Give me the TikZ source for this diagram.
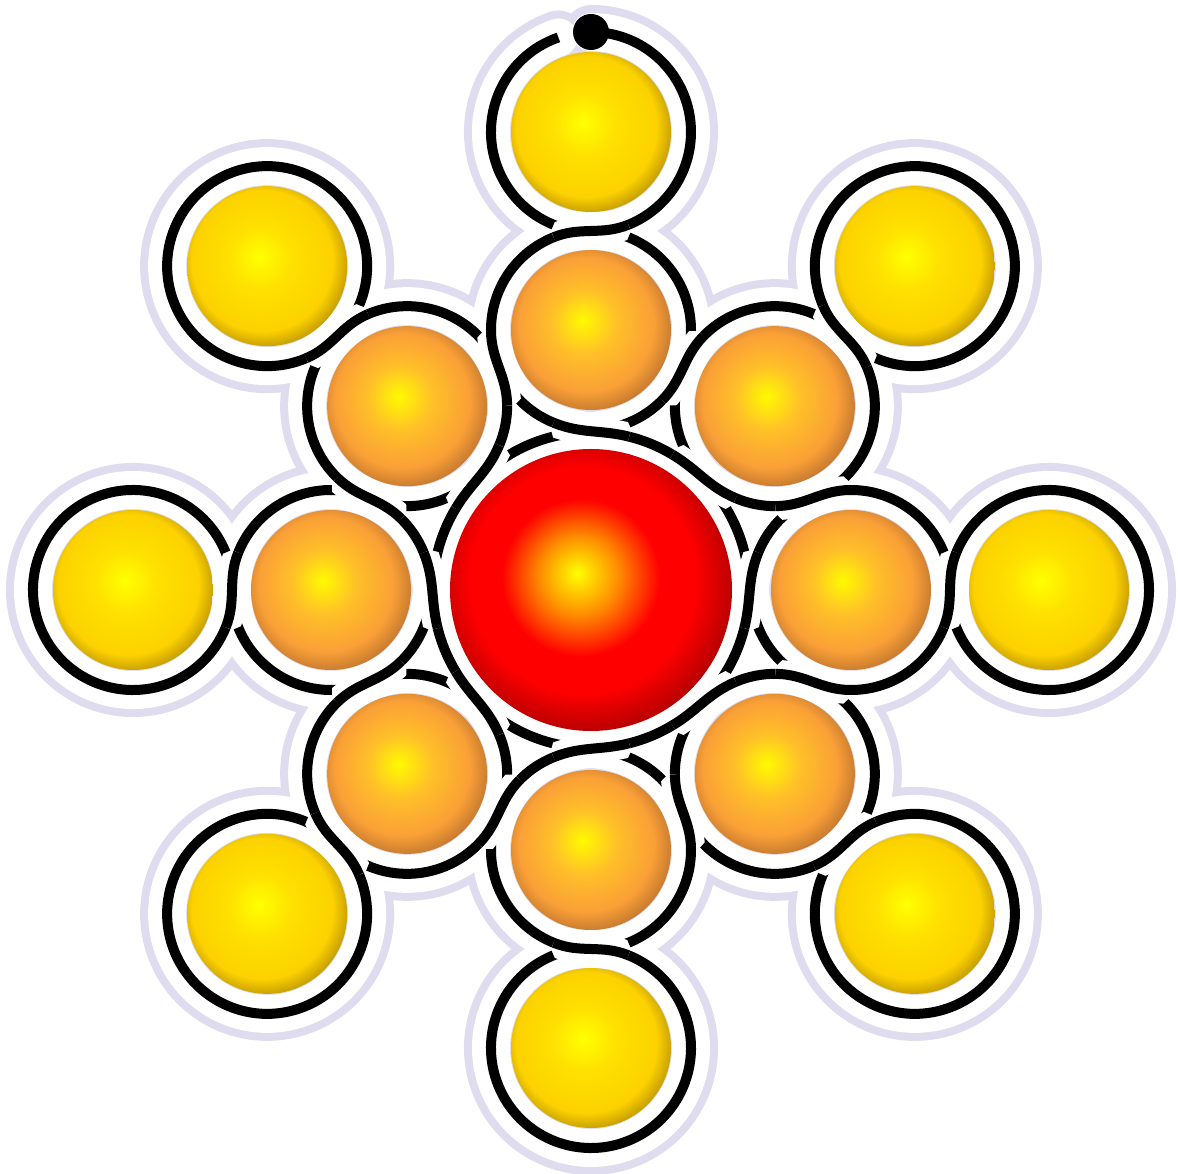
\documentclass[tikz,border=0pt]{standalone}
\usetikzlibrary{calc}
\definecolor{lav}{RGB}{222,220,238}
\definecolor{yA}{RGB}{255,255,0}
\definecolor{yB}{RGB}{255,224,0}
\definecolor{yC}{RGB}{252,210,0}
\definecolor{yD}{RGB}{180,140,0}
\definecolor{oA}{RGB}{255,250,0}
\definecolor{oB}{RGB}{255,192,40}
\definecolor{oC}{RGB}{250,160,55}
\definecolor{oD}{RGB}{185,112,45}
\definecolor{rA}{RGB}{255,255,0}
\definecolor{rB}{RGB}{255,140,0}
\definecolor{rC}{RGB}{255,0,0}
\definecolor{rD}{RGB}{160,0,0}
\pgfdeclareradialshading{ballY}{\pgfpoint{-2.7bp}{3bp}}{color(0bp)=(yA); color(10bp)=(yB); color(22bp)=(yC); color(28.5bp)=(yD); color(50bp)=(yD)}
\pgfdeclareradialshading{ballO}{\pgfpoint{-2.7bp}{3bp}}{color(0bp)=(oA); color(10bp)=(oB); color(21bp)=(oC); color(28.5bp)=(oD); color(50bp)=(oD)}
\pgfdeclareradialshading{ballR}{\pgfpoint{-2.5bp}{3bp}}{color(0bp)=(rA); color(7bp)=(rB); color(14bp)=(rC); color(20bp)=(rC); color(29bp)=(rD); color(50bp)=(rD)}
\tikzset{
  lavline/.style={draw=lav, line width=54pt, line cap=round},
  whiteline/.style={draw=white, line width=38pt, line cap=round},
  arcline/.style={draw=black, line width=10pt},
  knotline/.style={draw=black, line width=10pt, preaction={draw=white, line width=28pt}},
  cur/.style={lavline}
}
% arc on loop: center, radius, start, end, style
\newcommand\Arc[5]{\draw[#5] ($(#1)+(#3:#2pt)$) arc[start angle=#3, end angle=#4, radius=#2pt];}
% strand: A,RA,phiA,B,RB,phiB,theta,sign,style
\newcommand\Strand[9]{%
  \pgfmathsetmacro\sa{#7+(#8)*(#3)}%
  \pgfmathsetmacro\sb{#7+180+(#8)*(#6)}%
  \pgfmathsetmacro\so{#7+(#8)*(#3)-(#8)*90}%
  \pgfmathsetmacro\si{#7+(#8)*(#6)+(#8)*90}%
  \draw[#9] ($(#1)+(\sa:#2pt)$) to[out=\so,in=\si] ($(#4)+(\sb:#5pt)$);}
\newcommand\JAll[8]{\Strand{#1}{#2}{#3}{#4}{#5}{#6}{#7}{1}{cur}\Strand{#1}{#2}{#3}{#4}{#5}{#6}{#7}{-1}{cur}}
\newcommand\JKnot[8]{\Strand{#1}{#2}{#3}{#4}{#5}{#6}{#7}{-(#8)}{knotline}\Strand{#1}{#2}{#3}{#4}{#5}{#6}{#7}{#8}{knotline}}
\newcommand\Junctions{%
  \J{Y0}{100}{22}{O0}{100}{22}{180}{-1}
  \J{Y45}{100}{22}{O45}{100}{22}{225}{-1}
  \J{Y90}{100}{22}{O90}{100}{22}{270}{1}
  \J{Y135}{100}{22}{O135}{100}{22}{315}{-1}
  \J{Y180}{100}{22}{O180}{100}{22}{0}{-1}
  \J{Y225}{100}{22}{O225}{100}{22}{45}{-1}
  \J{Y270}{100}{22}{O270}{100}{22}{90}{-1}
  \J{Y315}{100}{22}{O315}{100}{22}{135}{-1}
  \J{O0}{100}{22}{O45}{100}{22}{112.5}{-1}
  \J{O45}{100}{22}{O90}{100}{22}{157.5}{-1}
  \J{O90}{100}{22}{O135}{100}{22}{202.5}{-1}
  \J{O135}{100}{22}{O180}{100}{22}{247.5}{-1}
  \J{O180}{100}{22}{O225}{100}{22}{292.5}{1}
  \J{O225}{100}{22}{O270}{100}{22}{337.5}{-1}
  \J{O270}{100}{22}{O315}{100}{22}{22.5}{-1}
  \J{O315}{100}{22}{O0}{100}{22}{67.5}{1}
  \J{C}{158}{14}{O0}{100}{22}{0}{-1}
  \J{C}{158}{14}{O45}{100}{22}{45}{1}
  \J{C}{158}{14}{O90}{100}{22}{90}{-1}
  \J{C}{158}{14}{O135}{100}{22}{135}{1}
  \J{C}{158}{14}{O180}{100}{22}{180}{1}
  \J{C}{158}{14}{O225}{100}{22}{225}{-1}
  \J{C}{158}{14}{O270}{100}{22}{270}{1}
  \J{C}{158}{14}{O315}{100}{22}{315}{-1}
}
\newcommand\Arcs{%
  \foreach \a in {0,45,135,180,225,270,315}{%
    \pgfmathsetmacro\ss{\a+202}\pgfmathsetmacro\ee{\a+518}%
    \Arc{Y\a}{100}{\ss}{\ee}{cur}}
  \Arc{Y90}{100}{90}{-68}{cur}
  \Arc{Y90}{100}{248}{109}{cur}
  \foreach \a in {0,45,...,315}{%
    \foreach \s/\e in {22/90.5,134.5/158,202/225.5,269.5/338}{%
      \pgfmathsetmacro\ss{\a+\s}\pgfmathsetmacro\ee{\a+\e}%
      \Arc{O\a}{100}{\ss}{\ee}{cur}}
    \pgfmathsetmacro\ss{\a+14}\pgfmathsetmacro\ee{\a+31}%
    \Arc{C}{158}{\ss}{\ee}{cur}}
}
\begin{document}
\begin{tikzpicture}[x=1pt,y=1pt]
  \fill[white] (-591pt,-584pt) rectangle (587pt,590pt);
  \useasboundingbox (-591pt,-584pt) rectangle (587pt,590pt);
  \coordinate (C) at (0,0);
  \foreach \a in {0,45,...,315}{%
    \coordinate (O\a) at (\a:260pt);
    \coordinate (Y\a) at (\a:458pt);}
  % lavender halo
  \tikzset{cur/.style={lavline}}
  \let\J\JAll
  \Arcs
  \Junctions
  % white halo
  \tikzset{cur/.style={whiteline}}
  \Arcs
  \Junctions
  % knot: crossings first, then plain arcs on top
  \let\J\JKnot
  \Junctions
  \tikzset{cur/.style={arcline}}
  \Arcs
  \coordinate (start) at ($(Y90)+(90:100pt)$);
  \fill[black] (start) circle[radius=18pt];
  % balls
  \foreach \a in {0,45,...,315}{%
    \shade[shading=ballY] (Y\a) circle[radius=80pt];
    \shade[shading=ballO] (O\a) circle[radius=80pt];}
  \shade[shading=ballR] (C) circle[radius=141pt];
\end{tikzpicture}
\end{document}
